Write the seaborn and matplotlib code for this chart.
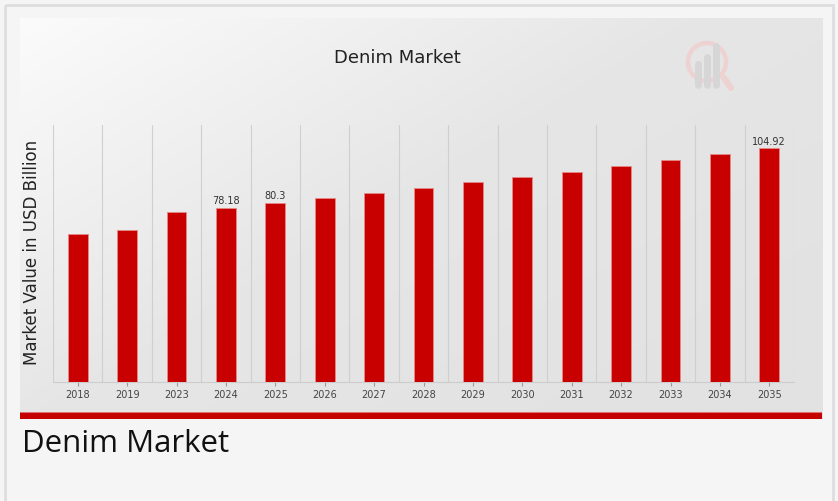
import numpy as np
import pandas as pd
import matplotlib
matplotlib.use("Agg")
import matplotlib.pyplot as plt
import matplotlib.patches as mpatches
import seaborn as sns

years = ["2018", "2019", "2023", "2024", "2025", "2026", "2027", "2028",
         "2029", "2030", "2031", "2032", "2033", "2034", "2035"]
values = [66.5, 68.4, 76.2, 78.18, 80.3, 82.5, 84.7, 87.2,
          89.7, 92.0, 94.4, 96.9, 99.7, 102.4, 104.92]
labeled = {"2024": "78.18", "2025": "80.3", "2035": "104.92"}
title = "Denim Market"
ylabel = "Market Value in USD Billion"
caption = "Denim Market"

W, H = 838, 501
sns.set_theme(style="white")
plt.rcParams['font.family'] = ['DejaVu Sans']

fig = plt.figure(figsize=(W / 100, H / 100), dpi=100)
fig.patch.set_facecolor("#f5f5f5")

def fx(px):
    return px / W

def fy(py):
    return 1 - py / H

# outer border
border = fig.add_axes([0, 0, 1, 1], zorder=0)
border.set_xlim(0, W); border.set_ylim(H, 0); border.axis("off")
border.add_patch(mpatches.Rectangle((5, 5), 828, 500, fill=False,
                                    edgecolor="#dedede", linewidth=2))

# gradient chart background
bg = fig.add_axes([fx(20), fy(419), fx(802), (419 - 18) / H], zorder=1)
gx, gy = np.meshgrid(np.linspace(0, 1, 300), np.linspace(0, 1, 200))
grad = np.clip(0.6 * gx + 0.5 * gy, 0, 1)
cmap = matplotlib.colors.LinearSegmentedColormap.from_list("g", ["#fbfbfb", "#e6e6e6", "#e2e2e2"])
bg.imshow(grad, cmap=cmap, aspect="auto", extent=[0, 1, 1, 0], vmin=0, vmax=1)
bg.axis("off")

# red band
band = fig.add_axes([fx(20), fy(419), fx(802), 7 / H], zorder=2)
band.set_facecolor("#c40000"); band.set_xticks([]); band.set_yticks([])
for s in band.spines.values():
    s.set_visible(False)
band.axhline(1, color="#e07070", linewidth=0.8)

# watermark logo
logo = fig.add_axes([0, 0, 1, 1], zorder=2)
logo.set_xlim(0, W); logo.set_ylim(H, 0); logo.axis("off")
logo.add_patch(mpatches.Circle((707, 62), 19, fill=False, edgecolor="#eed2d2", linewidth=3.2))
logo.plot([724, 731], [78, 88], color="#eed2d2", linewidth=4.5, solid_capstyle="round")
for bx, top in [(698, 64), (707, 57), (716, 46)]:
    logo.plot([bx, bx], [top, 85], color="#d6d6d6", linewidth=5, solid_capstyle="round")

# main axes
ax = fig.add_axes([fx(53), fy(382), fx(794 - 53), (382 - 125) / H], zorder=3)
ax.patch.set_alpha(0)
df = pd.DataFrame({"year": years, "value": values})
sns.barplot(data=df, x="year", y="value", color="#c80000", width=0.4,
            edgecolor="#e68a8a", linewidth=0.6, saturation=1, ax=ax, zorder=3)
ax.set_xlim(-0.5, len(years) - 0.5)
ax.set_ylim(0, 115.4)
ax.set_xticks(np.arange(-0.5, len(years), 1.0), minor=True)
ax.grid(True, which="minor", axis="x", color="#cfcfcf", linewidth=0.8, zorder=0)
ax.grid(False, which="major")
ax.set_yticks([])
ax.set_xlabel("")
ax.set_ylabel("")
for s in ["top", "right", "left"]:
    ax.spines[s].set_visible(False)
ax.spines["bottom"].set_color("#cccccc")
ax.spines["bottom"].set_linewidth(0.8)
ax.tick_params(axis="x", which="major", length=3, width=0.8, color="#999999",
               labelsize=7, labelcolor="#444444", pad=3, bottom=True)
ax.tick_params(axis="x", which="minor", length=0)
for i, (y, v) in enumerate(zip(years, values)):
    if y in labeled:
        ax.text(i, v + 0.8, labeled[y], ha="center", va="bottom",
                fontsize=7, color="#333333")

fig.text(fx(397), fy(58), title, ha="center", va="center", fontsize=13, color="#222222")
fig.text(fx(32), fy(252), ylabel, ha="center", va="center", rotation=90,
         fontsize=12, color="#222222")
fig.text(fx(22), fy(444), caption, ha="left", va="center", fontsize=22.5,
         color="#111111", family=["Open Sans", "DejaVu Sans"])

fig.savefig("out.png", dpi=100, facecolor=fig.get_facecolor())
